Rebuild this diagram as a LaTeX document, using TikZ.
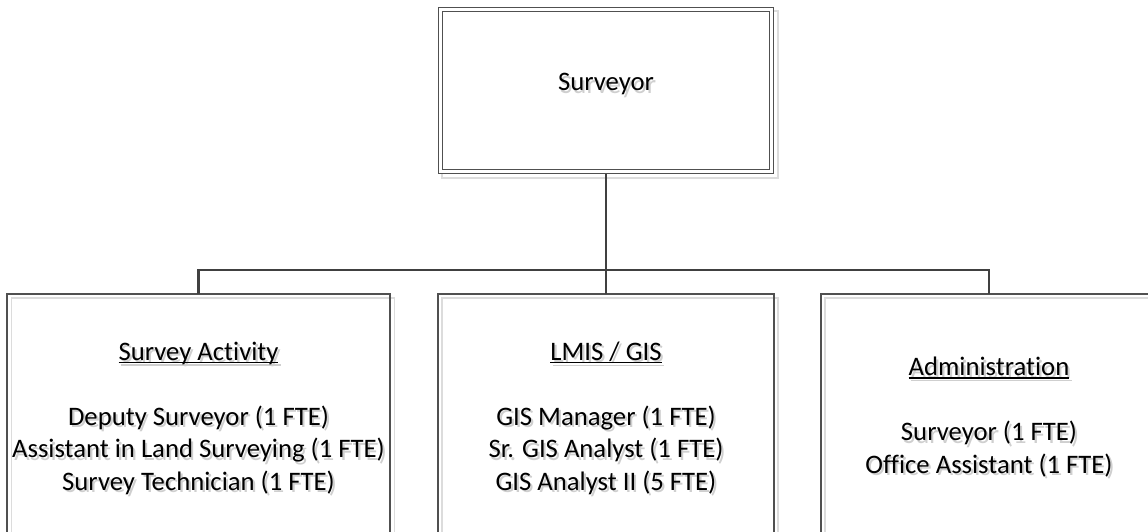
\documentclass[tikz,border=0pt]{standalone}
\usepackage{fontspec}
\setmainfont{Carlito}[Ligatures=NoCommon]
\newcommand\myul[1]{\setbox0\hbox{#1}\rlap{\rule[-3.2pt]{\wd0}{1.4pt}}\box0}
\definecolor{bordercol}{HTML}{505050}
\definecolor{shadowcol}{HTML}{DCDCDC}
\definecolor{linecol}{HTML}{404040}
\definecolor{textshadow}{HTML}{CFCFCF}
\tikzset{
  unitbox/.style={draw=bordercol, line width=1.2pt, inner sep=0pt, outer sep=0pt},
  boxshadow/.style={draw=shadowcol, line width=1.2pt},
  conn/.style={draw=linecol, line width=2.8pt},
  txt/.style={align=center, inner sep=0pt, font=\fontsize{26.7}{32.5}\selectfont, text=black},
  txtsh/.style={txt, text=textshadow},
}
\newcommand\shtext[3]{%
  \node[txtsh] (#1-s) at ([shift={(2.2,2.6)}]#2) {#3};
  \node[txt] (#1) at (#2) {#3};}
\begin{document}
\begin{tikzpicture}[x=1pt,y=-1pt]
\useasboundingbox (0,0) rectangle (1148,532);
% shadows
\draw[boxshadow] (442,11) rectangle (778,178);
\draw[boxshadow] (11.5,298) rectangle (394.5,560);
\draw[boxshadow] (442,298) rectangle (778,560);
\draw[boxshadow] (825,298) rectangle (1161,560);
% boxes
\node[unitbox, double=white, double distance=3.2pt, line width=1.1pt,
      minimum width=330.5pt, minimum height=161.5pt] (top) at (606,90.5) {};
\node[unitbox, minimum width=383pt, minimum height=246pt] (sa) at (198.5,417) {};
\node[unitbox, minimum width=336pt, minimum height=246pt] (gis) at (606,417) {};
\node[unitbox, minimum width=336pt, minimum height=246pt] (adm) at (989,417) {};
% connectors
\coordinate (bus) at (606,270);
\draw[conn] ([yshift=-2.7pt]top.south) -- (bus);
\draw[conn] (sa.north) |- (bus) -| (adm.north);
\draw[conn] (bus) -- (gis.north);
% texts
\shtext{t0}{606,84}{Surveyor}
\shtext{t1}{198.5,418}{\myul{Survey Activity}\\[32.5pt]Deputy Surveyor (1 FTE)\\Assistant in Land Surveying (1 FTE)\\Survey Technician (1 FTE)}
\shtext{t2}{606,418}{\myul{LMIS / GIS}\\[32.5pt]GIS Manager (1 FTE)\\Sr. GIS Analyst (1 FTE)\\GIS Analyst II (5 FTE)}
\shtext{t3}{989,417}{\myul{Administration}\\[32.5pt]Surveyor (1 FTE)\\Office Assistant (1 FTE)}
\end{tikzpicture}
\end{document}
